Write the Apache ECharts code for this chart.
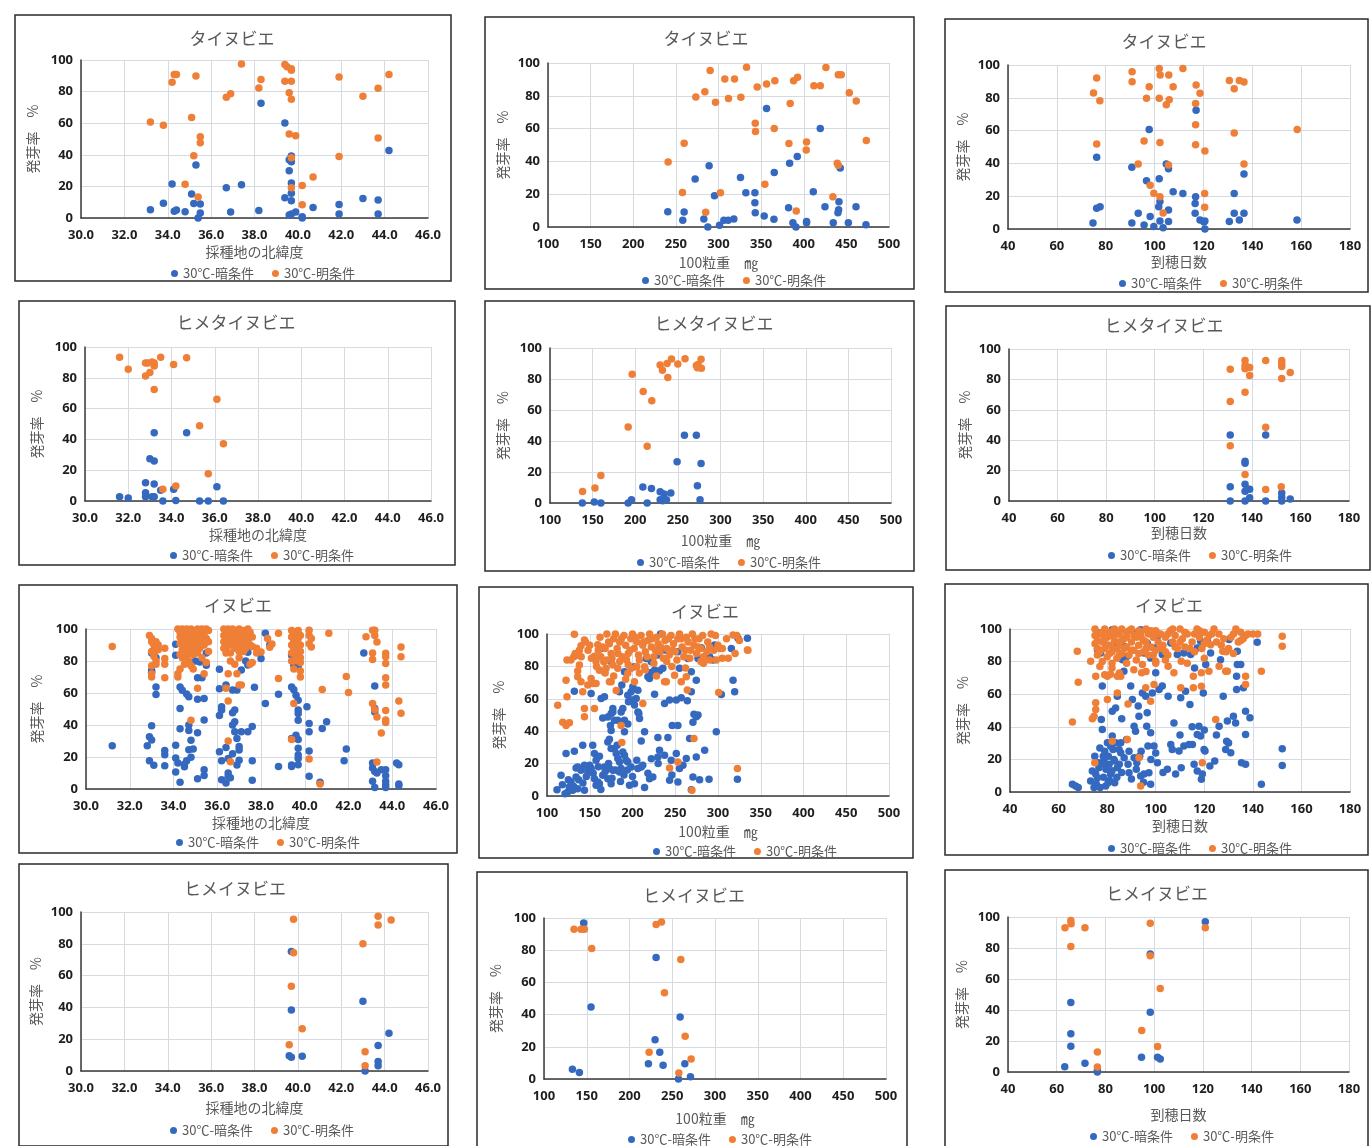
<!DOCTYPE html>
<html><head><meta charset="utf-8">
<script src="https://cdn.jsdelivr.net/npm/echarts/dist/echarts.min.js"></script>
<style>html,body{margin:0;padding:0;background:#fff}#c{width:1371px;height:1146px}</style>
</head><body><div id="c"></div><script>
const seriesNames = ['30℃-暗条件', '30℃-明条件'];
const panelTitles = ['タイヌビエ','タイヌビエ','タイヌビエ','ヒメタイヌビエ','ヒメタイヌビエ','ヒメタイヌビエ','イヌビエ','イヌビエ','イヌビエ','ヒメイヌビエ','ヒメイヌビエ','ヒメイヌビエ'];
const xNames = {lat: '採種地の北緯度', wt: '100粒重　㎎', day: '到穂日数'};
const yName = '発芽率　%';
const xScales = {lat: [30, 46, 2], wt: [100, 500, 50], day: [40, 180, 20]};
const yScale = [0, 100, 20];

// ---- タイヌビエ ----
const taiLatDark = [[33.2,5.3],[33.8,9.3],[34.2,21.5],[34.3,4.2],[34.4,5.1],[34.8,4.0],[35.1,15.2],[35.2,9.1],[35.3,33.5],[35.4,0],[35.5,3.2],[35.5,8.8],[36.7,19.2],[36.9,3.8],[37.4,21.1],[38.2,4.8],[38.3,72.6],[39.4,60.2],[39.4,12.8],[39.6,29.9],[39.6,36.8],[39.7,35.6],[39.7,39.2],[39.7,22.1],[39.7,15.6],[39.7,10.9],[39.6,1.9],[39.7,2.5],[39.9,3.8],[40.2,0.8],[40.2,0],[40.7,6.7],[41.9,8.6],[41.9,2.5],[43.0,12.4],[43.7,11.4],[43.7,2.5],[44.2,42.7]];
const taiLatLight = [[33.2,60.8],[33.8,58.7],[34.2,85.9],[34.3,90.9],[34.4,90.9],[34.8,21.3],[35.1,63.6],[35.2,39.4],[35.3,89.9],[35.4,13.3],[35.5,51.4],[35.5,47.6],[36.7,76.4],[36.9,78.7],[37.4,97.5],[38.2,82.3],[38.3,87.6],[39.4,97.1],[39.5,95.8],[39.7,94.5],[39.7,93.5],[39.4,86.5],[39.7,86.5],[39.6,79.2],[39.7,75.2],[39.6,53.1],[39.9,52.0],[39.7,38.1],[39.7,19.2],[40.2,20.6],[40.2,8.4],[40.7,25.9],[41.9,89.3],[41.9,38.9],[43.0,77.1],[43.7,82.1],[43.7,50.7],[44.2,90.9]];
const taiWtDark = [[240.5,9.3],[258.1,4.1],[259.7,9.1],[272.6,29.2],[282.8,4.9],[287.5,0],[289,37.3],[295.3,19.1],[301.2,1],[306.3,4.1],[311.4,4.1],[318,4.9],[325.8,30.2],[332.1,20.9],[342.7,20.9],[342.7,14.8],[343.1,8.7],[353.6,6.7],[356.4,72.2],[365,4.7],[365.4,33.3],[382.2,11.8],[383.4,38.9],[387.3,2.6],[390.8,0],[392.4,43],[403.3,3.4],[403.3,2.6],[411.2,21.5],[419.4,60],[424.9,12.4],[434.6,2.6],[441.3,15.4],[440.9,10.5],[440.1,8.7],[442.8,35.9],[452.3,2.6],[461.3,12.4],[473,1.4]];
const taiWtLight = [[240.9,39.6],[257.7,21.1],[259.7,51.1],[273.4,79.3],[284,82.4],[285,9],[290.2,95.5],[296.5,76.1],[302.3,20.9],[307.4,90.3],[311.7,78.3],[318.8,90.3],[326.2,79.1],[332.9,97.4],[343.1,63.3],[343.4,58.2],[345.4,85.4],[354.4,26],[356.4,87.2],[365.4,60],[366.1,89.2],[384.1,75.3],[382.6,50.9],[388.1,89.2],[391.2,9.7],[392.8,91.3],[403.3,51.9],[402.9,46.9],[411.9,86.2],[419.4,86.2],[426,97.2],[434.2,18.5],[440.5,92.9],[444,92.9],[439.3,38.9],[440.5,37.7],[453.4,81.9],[461.6,76.9],[473.4,52.7]];
const taiDayDark = [[74.8,3.7],[76.3,43.7],[76.3,12.7],[77.7,13.5],[90.7,37.6],[90.7,3.7],[93.3,9.6],[95.7,2.4],[96.7,29.4],[97.8,60.6],[98.2,7.6],[99.7,1.6],[101.7,13.5],[101.9,30.6],[102.2,16.7],[102.2,4.9],[103.5,0.8],[104.8,39.6],[105.7,36.7],[105.7,11.6],[105.7,4.5],[107.6,22.7],[111.6,21.6],[116.8,19.6],[116.6,15.5],[116.6,9.6],[117,72.4],[118.6,5.5],[120.2,4.3],[120.6,4.9],[120.6,0],[130.6,4.5],[132.6,21.6],[132.6,9.6],[134.7,5.5],[136.6,33.5],[136.6,9.6],[158.3,5.5]];
const taiDayLight = [[75,82.9],[76.3,92],[77.6,78.2],[76.3,51.8],[90.8,95.9],[90.8,89.8],[93.3,39.6],[95.7,53.7],[96.7,79.8],[97.8,86.7],[98.2,26.7],[99.7,21.8],[101.9,97.8],[101.9,79.8],[102.3,93.9],[102.2,52.7],[102.2,19.6],[103.5,9.8],[104.8,75.7],[105.8,93.9],[106,78.8],[105.7,39],[107.6,86.7],[111.6,97.8],[117,87.8],[116.8,76.5],[116.8,63.5],[116.8,51.4],[118.6,82.7],[120.6,47.6],[120.5,21.6],[120.5,13.3],[130.6,90.6],[132.6,85.5],[132.6,58.6],[134.7,90.6],[136.6,89.6],[136.6,39.6],[158.4,60.6]];

// ---- ヒメタイヌビエ ----
const himeTaiLatDark = [[31.6,2.8],[32.0,1.9],[32.8,11.9],[32.8,5.4],[32.8,2.8],[33.0,27.4],[33.2,25.9],[33.2,44.3],[33.2,11.0],[33.1,2.8],[33.2,2.8],[33.5,6.9],[33.6,0],[34.1,7.6],[34.2,0.4],[34.7,44.3],[35.3,0],[35.7,0],[36.1,9.3],[36.4,0]];
const himeTaiLatLight = [[31.6,93.3],[32.0,85.5],[32.8,89.6],[32.9,89.6],[32.8,81.2],[33.0,83.4],[33.1,90.3],[33.2,89.6],[33.2,87.7],[33.2,72.4],[33.5,93.3],[34.1,88.6],[34.7,93.1],[35.3,48.8],[36.1,66.1],[35.7,17.7],[36.4,37.1],[33.6,7.6],[34.2,9.7]];
const himeTaiWtDark = [[137.9,0],[151.9,0.6],[159.7,0],[191.7,0],[195.6,2.1],[208.9,10.3],[214,0],[219,9.4],[229.2,7.3],[229.2,2.1],[232.3,1.5],[233.8,5.8],[236.6,2.1],[241.7,6.4],[249.1,26.6],[257.7,43.7],[271.7,43.7],[272.9,11.1],[277.2,25.5],[276,2.1]];
const himeTaiWtLight = [[138.2,7.5],[152.7,9.6],[159.7,17.8],[191.7,49],[196.4,83.1],[209.3,71.9],[214,36.6],[219.4,66],[229.2,89.1],[231.9,85.7],[237.4,90],[238.2,80.9],[242.5,92.9],[249.9,89.7],[258.4,93.1],[272.9,87.2],[273.7,89.3],[277.2,92.7],[277.6,87],[271.7,88.7]];
const himeTaiDayDark = [[131.1,43.4],[131.1,9.3],[131.1,0],[137.2,26.2],[137.2,24.9],[137.2,11],[137.2,6.4],[138.2,7.7],[139.1,7.7],[139.1,2.2],[137.2,0],[145.7,43.4],[145.7,0],[152.3,5.3],[152.3,2.4],[152.3,0],[155.8,1.3]];
const himeTaiDayLight = [[131.1,86.6],[131.1,65.4],[131.1,36.3],[137.2,92.5],[137.2,89.2],[137.2,87],[137.2,71.6],[137.2,17.4],[138.2,88.1],[139.1,87.9],[139.1,82.6],[145.7,92.5],[145.7,48.5],[145.7,7.5],[152.3,92.5],[152.3,90.3],[152.3,88.5],[152.3,80.6],[155.8,84.6],[152.1,9.3]];

// ---- イヌビエ ----
const inuLatDark = [[31.2,27],[33.0,39.5],[32.9,32.7],[33.0,30.6],[32.8,27],[32.9,17.7],[33.1,14.8],[33.0,85],[33.1,84],[33.2,82],[33.0,74],[33.2,63.8],[33.2,59],[33.0,73],[33.6,24],[33.6,21.4],[33.6,14.6],
[34.1,90.4],[34.1,83.6],[34.3,50.3],[34.3,37.6],[34.1,27.4],[34.1,19.3],[34.2,16.2],[34.1,10.6],[34.3,4.2],[34.3,63.8],[34.4,61.7],[34.6,59.3],[34.7,57.7],[35.1,56.1],[35.4,56.5],[35.1,69.6],[35.3,69.6],[35.0,80],[34.7,36.6],[34.7,24.5],[34.8,19.8],[34.6,17.7],[34.5,13.9],[35.1,35.1],[35.1,6.4],[35.4,12],[35.4,8.5],[35.4,43.2],[34.7,40],[34.8,30.4],[35.5,77.3],[35.5,85],[35.5,99.4],[35.2,79.4],[34.5,15.5],[34.9,25],
[36.1,74.8],[36.1,62.6],[36.2,51.4],[36.2,49.3],[36.1,45.9],[36.1,23.3],[36.2,17.7],[36.2,5.8],[36.4,3.7],[36.5,10],[36.5,8],[36.4,65],[36.4,26],[36.5,19],[36.7,22],[36.7,47.6],[36.8,49.3],[36.7,40],[36.8,35.8],[36.9,31.6],[36.9,15],[37.0,18],[37.0,26.6],[37.0,24.3],[37.1,35.8],[36.7,61.8],[36.9,61.8],[36.9,89],[37.1,92],[37.4,94],[37.4,85.5],[37.3,80],[37.4,35.8],[37.6,39],[37.6,17.7],[37.6,5.4],[37.7,63.6],[37.1,74.4],[37.4,77.5],[36.6,7],[36.8,42],
[38.0,81.5],[38.2,53.4],[38.2,97.3],[38.4,90],[38.8,59.2],[38.8,14],
[39.4,83.6],[39.5,77.3],[39.4,63.8],[39.5,62],[39.6,58.6],[39.7,55.5],[39.7,49.3],[39.7,47.2],[39.7,43],[39.6,33.6],[39.7,31],[39.7,25.4],[39.7,21.2],[39.7,19.1],[39.7,15.2],[39.4,15],[39.4,14],[39.4,31.6],[39.7,75.9],[39.6,80],
[40.1,51.4],[40.2,41],[40.2,35.8],[40.2,23.7],[40.2,7.9],[40.7,4.2],[40.8,37.8],[41.0,42],[41.9,25],[41.8,17.7],[42.7,85],
[43.2,64.4],[43.2,50.3],[43.2,48.2],[43.1,16.2],[43.1,13.1],[43.2,11],[43.3,10],[43.5,12],[43.1,4.8],[43.2,1],[43.7,12],[43.7,8.3],[43.7,4.8],[43.7,2.7],[43.7,1],[44.2,16.2],[44.3,15.2],[44.3,3.1],[44.3,2.1]];
const inuLatLight = [[31.2,89],[32.9,96],[33.0,94],[33.0,92],[33.1,90],[33.2,88],[33.0,86],[33.1,83],[33.2,80],[33.0,77],[33.2,78],[33.0,72],[33.1,85],[33.2,92],[33.3,87],[33.3,90],[33.6,88],[33.6,81.5],[33.6,78],[33.6,69.6],[33.0,70],
[34.2,100],[34.3,98],[34.3,95],[34.4,100],[34.4,97],[34.4,93],[34.5,99],[34.5,96],[34.5,91],[34.5,88],[34.6,100],[34.6,95],[34.6,90],[34.7,98],[34.7,93],[34.7,86],[34.8,100],[34.8,96],[34.8,89],[34.9,99],[34.9,94],[35.0,97],[35.0,91],[35.1,100],[35.1,93],[35.2,98],[35.2,88],[35.3,100],[35.3,95],[35.4,97],[35.4,90],[35.5,100],[35.5,94],[35.6,99],[35.6,92],[34.3,84],[34.4,82],[34.6,83],[34.9,84],[35.1,85],[35.3,82],[34.2,72],[34.3,75],[34.5,78],[34.8,77],[34.9,75],[35.4,72],[35.5,79],[34.8,43],[35.1,63],[34.2,70],
[34.3,91],[34.4,87],[34.6,86],[34.7,80],[35.0,87],[35.2,93],[35.3,90],[35.6,86],
[36.3,100],[36.3,96],[36.3,92],[36.4,98],[36.4,88],[36.5,100],[36.5,94],[36.6,97],[36.6,90],[36.6,85],[36.7,100],[36.7,93],[36.8,96],[36.8,88],[36.9,99],[36.9,91],[37.0,100],[37.0,95],[37.0,86],[37.1,97],[37.1,90],[37.2,99],[37.2,93],[37.3,96],[37.3,88],[37.4,100],[37.4,92],[37.5,98],[37.6,95],[37.6,89],[36.4,85],[36.5,72],[36.4,63],[36.5,55],[36.5,30],[36.6,17],[36.8,78],[36.9,72],[37.0,65],[37.1,65],[37.0,82],[37.6,79],[37.5,78],[37.8,88],[37.8,85],
[36.3,88],[36.4,93],[36.5,90],[36.6,80],[36.8,92],[37.0,90],[37.2,86],[37.3,92],[37.5,90],
[38.0,85.7],[38.3,94],[38.4,88.6],[38.5,90.7],[38.8,97.3],[38.8,69],
[39.4,99],[39.4,95],[39.4,90],[39.4,85],[39.5,98],[39.5,92],[39.5,80],[39.6,97],[39.6,88],[39.6,83],[39.7,99],[39.7,94],[39.7,86],[39.7,80],[39.8,96],[39.8,90],[39.8,82],[39.8,79],[39.5,75],[39.5,53.4],[39.4,31],[39.8,70],[39.8,73.8],
[39.5,88],[39.6,93],[39.7,90],[39.4,80],[39.8,86],
[40.2,99.2],[40.2,96],[40.3,94],[40.2,90.8],[40.3,88.8],[40.2,18.7],[40.7,3.1],[40.8,62.2],[41.1,97.3],[41.9,70.3],[42.0,60.3],[42.8,95.1],
[43.1,99.2],[43.2,99.2],[43.2,96],[43.3,91.9],[43.1,85],[43.1,81],[43.1,53.4],[43.2,49.5],[43.3,45],[43.5,35],[43.3,16.8],
[43.7,84.8],[43.7,82.7],[43.7,78.5],[43.7,69.6],[43.7,65],[43.7,49],[43.7,43.2],[43.7,41.6],[44.4,88.8],[44.4,82.7],[44.3,55],[44.4,47.4]];
const inuWtDark = [[111.7,3.9],[116.4,12.8],[121.1,1.4],[122.3,26.2],[124.2,2.5],[126.2,5.6],[128.1,8.7],[130.1,3.5],[132,27.6],[134,11.8],[134,17.3],[135.9,17.9],[135.9,4.5],[139.8,15.9],[141.8,31.3],[143.8,19],[143.8,3.5],[147.7,15.3],[151.6,16.9],[153.5,31.3],[155.5,26.2],[157.4,22.1],[155.5,10.7],[157.4,6.6],[159.4,8.7],[161.3,24.5],[161.3,7.6],[165.2,12.8],[167.2,17.9],[171.1,10.7],[173,16.9],[175,7.6],[177,15.9],[178.9,29.3],[180.9,26.2],[182.8,23.1],[184.8,21],[184.8,14.8],[186.7,16.9],[188.7,27.2],[190.6,25.2],[192.6,22.1],[194.5,21],[196.5,6.6],[198.4,17.9],[202.3,7.6],[206.3,16.9],[210.2,17.9],[214.1,5.2],[219.9,10.7],[223.8,11.8],[229.7,24.1],[231.6,28.2],[237.5,25.2],[243.4,9.7],[245.3,22.1],[251.2,26.2],[253.1,8.7],[259,19],[262.9,23.1],[270.7,11.8],[274.6,24.1],[278.5,10.1],[284.4,28.2],[289.5,10.3],[322.7,10.3],[268.8,3.9],
[118,7],[125,10],[131,6],[137,10],[142,8],[146,12],[150,19],[154,14],[160,18],[163,4],[168,15],[172,20],[176,11],[180,16],[186,9],[190,13],[194,16],[200,12],[205,22],[212,19],[218,14],[222,23],[230,20],[246,13],[255,17],
[151.6,63.3],[163.3,60.2],[167.2,61.2],[165.2,48.2],[171.1,48.7],[175,50.9],[174.2,43.5],[175,40.4],[177,54],[177,51.9],[178.9,46.8],[171.1,33.4],[173,35],[175,29.3],[182,31.3],[182.8,46.8],[184.8,64.3],[186.7,51.9],[187.5,68.5],[188.7,54],[190.6,46.8],[190.6,39.6],[194.5,44.5],[194.5,62.2],[195.3,58.2],[198.4,64.3],[199.2,59.2],[200.4,67.4],[202.3,56.1],[204.3,60.2],[206.3,65.3],[206.3,51.9],[207.4,50.9],[208.2,47.8],[210.2,34],[214.1,39.6],[218,73.6],[219.9,72.6],[221.9,76.3],[225.8,77.7],[225.8,62.8],[229.7,36.1],[231.6,77.3],[235.5,78.8],[237.5,57.1],[241.4,36.1],[243.4,59.2],[246.5,43.5],[251.2,59.2],[253.1,43.5],[255.1,78.8],[257,60.6],[264.1,58.8],[266.8,35.5],[270.7,45.6],[271.9,50.5],[274.6,48.9],[276.6,50],[274.6,71.5],[268.8,76.7],[268.8,64.3],[298,39.6],[303.9,62.7],[317.6,71.5],[319.5,64.3],
[134,87],[132,64.7],[163.3,91],[167.2,76.7],[175,82.9],[190.6,76.7],[202.3,79.8],[216,84.9],[221.9,82.9],[232.8,100],[229.7,87],[237.5,90.1],[253.1,89.1],[264.8,84.9],[276.6,84.9],[290.2,86],[294.1,83.9],[323.4,97.3],[315.6,91.1],[334.4,97.3],[296.1,93.2],[280.5,91.5]];
const inuWtLight = [[112.5,56],[118.4,45.6],[122.3,43.5],[126.2,45.2],[123.4,61.2],[122.3,71.5],[123.4,83.9],[132,99.8],[131.3,85.9],[135.9,87],[137.9,90],[139.8,92.8],[143.8,96.3],[137.9,80.8],[135.9,77.1],[135.9,73.6],[139.8,70.5],[141.8,64.3],[143.8,54],[143.8,48.9],[147.7,68.5],[151.6,72.6],[153.5,69.5],[157.4,69.5],[155.5,54],[157.4,83],[155.5,86.2],[159.4,93.4],[161.3,77.7],[166.4,82.9],[169.1,78.8],[173,70.5],[175,70.5],[177,80.8],[180.9,65.1],[182.8,78.8],[186.7,43.5],[187.5,33],[194.5,75.7],[198.4,78.8],[202.3,70.5],[212.1,57.1],[214.1,79.8],[237.5,70.5],[239.5,70.5],[243.4,17.3],[249.2,74.6],[253.1,21],[257,70.5],[262.9,73.6],[264.1,65.4],[271.9,35.5],[269.5,3.5],[300.8,63.9],[305.1,91.1],[317.6,99.4],[322.7,17],[334.4,90.1],
[162,98],[165,92],[170,100],[172,95],[175,88],[178,97],[180,100],[182,91],[185,95],[188,86],[190,99],[192,93],[195,88],[198,97],[200,100],[202,91],[205,95],[207,87],[210,99],[212,93],[215,89],[218,96],[220,100],[222,92],[225,86],[228,98],[230,94],[232,89],[235,100],[238,96],[240,91],[243,87],[245,99],[248,94],[250,89],[253,97],[255,100],[258,92],[260,86],[263,98],[265,95],[268,90],[270,100],[272,93],[275,88],[278,97],[280,91],[283,86],[288,95],[292,100],[295,90],[300,93],[305,85],[310,97],[322,99],[325,96],[335,90],[320,88],[298,84],[283,82],[185,83],[195,81],[205,80],[215,78],[225,82],[240,83],[170,84],[160,90],[150,93],[140,86],
[128,84],[133,88],[145,95],[148,90],[152,85],[158,80],[163,86],[168,91],[173,94],[176,85],[183,88],[187,97],[193,84],[197,90],[203,98],[208,84],[213,95],[217,86],[223,97],[227,90],[233,92],[236,85],[242,97],[247,90],[252,84],[257,97],[262,90],[267,85],[273,97],[277,92],[282,99],[287,89],[290,92],[297,99],[302,91],[312,85],[168,76],[178,74],[192,72],[208,76],[228,74],[246,80],[262,79],[280,83],[290,84]];
const inuDayDark = [[65.7,4.7],[67,3.7],[68.1,2.7],[73.2,6.7],[73.9,12.9],[74.6,2.7],[74.9,22],[75.3,11],[76,8.8],[76.6,14.9],[77.1,2.7],[77.6,44.5],[78,38.4],[78,65],[78.4,22],[78.7,19],[79.1,17],[79.4,3.7],[80.1,30.2],[80.4,5.7],[80.8,17],[81.4,11],[82.1,49.6],[82.1,34.3],[82.4,26.1],[82.8,20],[83.1,5.7],[83.5,30.2],[83.5,51.6],[84.2,14.9],[84.2,58.8],[84.9,26.1],[85.6,30.2],[85.6,24.1],[86,44.9],[86.3,81.2],[86.9,74.1],[88,32.2],[88.6,17],[89,11.8],[89.7,65],[90.4,56.7],[91.1,40.4],[91.1,21],[91.7,37.3],[92.2,18],[92.8,52.7],[93.1,46.5],[93.4,22],[93.8,9.8],[94.5,60.8],[95.2,11],[95.9,58.8],[96.3,40.4],[96.5,48.6],[96.8,28.2],[97.2,11.8],[97.9,36.3],[97.9,4.7],[98.6,60.8],[99.3,28.2],[100,73.1],[100.7,18],[101.4,62.9],[102.7,65],[104.8,13.9],[105.1,58.8],[106.2,29.2],[106.8,26.1],[107.5,42.4],[108.2,11],[109.6,25.1],[110.3,57.8],[110.5,14.9],[111.6,28.2],[112.3,61.8],[113.7,29.2],[114.1,53.7],[115.1,29.2],[115.8,17],[116,76.1],[117.1,35.3],[117.1,12.9],[117.8,40.4],[118.5,34.3],[118.8,7.8],[119.2,11],[119.6,60.8],[119.9,26.1],[120.3,25.1],[120.6,78.2],[122.3,15.9],[124.3,19],[126.1,40.4],[127.8,58.8],[128.8,26.1],[129.2,31.2],[129.5,43.5],[130.9,24.1],[132,46.5],[132.9,42.4],[133.3,71],[133.3,62.9],[133.6,78.2],[135,78.2],[135.3,18],[136.1,63.9],[137,49.6],[137,35.3],[137,17],[138.8,45.5],[143.5,4.7],[152.1,26.5],[152.1,16.3],[141.8,91.8],
[75.5,5],[76.5,18],[77,27],[78.5,9],[79,25],[79.5,14],[80.5,22],[81,7],[81.5,28],[82,13],[83,19],[84,9],[85,17],[86,12],[87,21],[89,25],[90,8],[92,14],[94,25],[95,6],[98,20],[100,24],[103,12],[110,35],[115,40],[120,38],[125,35],[130,30],
[76,87.3],[76.6,97.6],[77.3,85.3],[82.1,99.6],[84.2,90.4],[86.9,89.4],[88.3,83.3],[91.7,97.6],[93.8,99.6],[95.2,85.3],[96.5,91.4],[97.9,82.2],[99.3,88.4],[100.7,95.5],[102.7,84.3],[106.2,91.4],[108.9,84.3],[111.6,85.3],[114.4,84.3],[117.1,88.4],[118.5,92.5],[121.3,92.5],[122.6,85.3],[126.7,81.2],[130.2,93.5],[133.6,86.3]];
const inuDayLight = [[65.7,42.9],[67.7,86.3],[68.1,67.3],[73.2,80.2],[73.9,44.9],[74.6,46.5],[74.9,18],[75.3,54.7],[75.3,50.6],[75.3,71],[80.1,56.7],[82.1,31.2],[80.1,71],[81.4,72.2],[84.2,60.8],[84.2,71],[85.6,71],[88.3,32.2],[88.6,54],[93.1,21],[93.8,3.7],[94.2,73.1],[94.5,78.2],[95.9,63.9],[97.9,55.7],[99.3,65.9],[100,80.2],[105.1,77.1],[107.5,73.1],[110.3,63.9],[110.5,80.2],[115.5,71],[115.5,63.9],[118.8,73.1],[118.8,64.9],[119.2,18],[121.9,74.1],[122.6,90.4],[124.7,44.5],[126.1,77.1],[127.6,86.3],[128.8,74.1],[129.5,74.1],[137,71],[137,65.9],[143.5,74.1],[152.1,95.5],[152.1,89.4],
[75,100],[75,96],[75,91],[76,88],[76,84],[77,97],[78,92],[78,80],[79,100],[79,88],[80,95],[80,83],[81,98],[81,90],[82,86],[82,79],[83,100],[83,93],[84,88],[84,82],[85,97],[85,91],[86,85],[86,100],[87,94],[88,89],[88,98],[89,84],[90,100],[90,92],[91,96],[91,87],[92,81],[93,99],[93,90],[94,95],[95,86],[96,100],[96,92],[97,97],[97,84],[98,89],[99,95],[100,99],[100,87],[101,92],[102,97],[103,90],[104,95],[105,84],[106,99],[107,92],[108,96],[109,88],[110,100],[111,94],[112,89],[113,97],[115,92],[116,86],[117,100],[118,95],[119,88],[120,98],[121,93],[122,96],[124,100],[126,97],[127,90],[129,86],[130,88],[131,95],[132,85],[133,100],[134,92],[135,98],[136,94],[137,96],[138,97],[140,97],[142,97],
[76,93],[77,86],[78,98],[79,94],[80,90],[81,85],[82,96],[83,88],[84,97],[85,84],[86,93],[87,88],[88,95],[89,99],[90,87],[92,95],[93,85],[94,98],[95,93],[96,88],[98,99],[99,84],[101,97],[102,88],[104,86],[105,97],[107,100],[108,89],[110,92],[112,98],[114,88],[116,97],[118,99],[120,91],[123,97],[125,92],[128,94],[132,97],[135,93],[77,77],[79,72],[82,76],[85,73],[88,79],[91,75],[96,74],[100,79],[104,81],[113,79],[120,82]];

// ---- ヒメイヌビエ ----
const himeInuLatDark = [[39.7,75.1],[39.7,38.3],[39.6,9.6],[39.7,8.6],[40.2,9.2],[43.0,43.9],[43.1,0],[43.7,16.1],[43.7,5.9],[43.7,3.3],[44.2,23.8]];
const himeInuLatLight = [[39.8,95.4],[39.8,74.3],[39.7,53.3],[39.6,16.5],[40.2,26.6],[43.0,80.1],[43.1,12.1],[43.1,3.3],[43.7,97.3],[43.7,91.8],[44.3,95.0]];
const himeInuWtDark = [[146.4,96.9],[133.2,6],[141.4,4.1],[155,44.7],[231.1,75.4],[229.9,24.4],[235.4,16.6],[222.1,9.5],[239.3,8.5],[259.2,38.5],[264.7,9.5],[257.3,0],[271.3,1.4]];
const himeInuWtLight = [[135.1,93],[143.3,93],[147.2,93],[155.8,81],[231.1,95.9],[237.4,97.5],[222.9,16.6],[240.9,53.6],[260,74.3],[265.1,26.5],[272.1,12.4],[257.7,3.7]];
const himeInuDayDark = [[63.3,3.4],[65.8,44.8],[65.8,24.6],[65.8,16.6],[71.6,5.6],[76.7,0.9],[76.7,0],[94.8,9.5],[98.4,76.1],[98.4,38.6],[101.4,9.5],[102.5,8.4],[121,97]];
const himeInuDayLight = [[63.4,93.1],[65.8,97.8],[65.9,95.7],[65.8,81],[71.6,93.1],[76.7,12.9],[76.7,3.2],[98.4,96],[98.4,75],[102.5,53.9],[94.9,26.7],[101.4,16.4],[121,93.1]];

const panelData = [
  ['lat', taiLatDark, taiLatLight], ['wt', taiWtDark, taiWtLight], ['day', taiDayDark, taiDayLight],
  ['lat', himeTaiLatDark, himeTaiLatLight], ['wt', himeTaiWtDark, himeTaiWtLight], ['day', himeTaiDayDark, himeTaiDayLight],
  ['lat', inuLatDark, inuLatLight], ['wt', inuWtDark, inuWtLight], ['day', inuDayDark, inuDayLight],
  ['lat', himeInuLatDark, himeInuLatLight], ['wt', himeInuWtDark, himeInuWtLight], ['day', himeInuDayDark, himeInuDayLight]
];

// layout (pixels): box, plot grid, title centre, legend left/centre-y, name gaps
const layout = [
 {box:[15,15,436,266], grid:[81,60,347,158], tx:232, ty:39, lx:166, ly:271, xg:27, yg:41},
 {box:[485,17,429,272], grid:[548,63,341,164], tx:706, ty:39, lx:637, ly:278, xg:29, yg:38},
 {box:[945,19,423,273], grid:[1008,65,342,164], tx:1164, ty:42, lx:1114, ly:281, xg:26, yg:38},
 {box:[19,301,436,264], grid:[85,347,346,154], tx:236, ty:323, lx:165, ly:553, xg:27, yg:41},
 {box:[485,301,429,270], grid:[550,348,341,155], tx:714, ty:324, lx:632, ly:560, xg:31, yg:40},
 {box:[946,306,424,264], grid:[1009,349,340,152], tx:1164, ty:326, lx:1103, ly:553, xg:25, yg:37},
 {box:[19,585,438,268], grid:[86,629,350,160], tx:238, ty:606, lx:171, ly:840, xg:27, yg:42},
 {box:[479,587,434,271], grid:[547,634,342,162], tx:705, ty:612, lx:648, ly:849, xg:29, yg:41},
 {box:[945,584,423,271], grid:[1010,629,340,163], tx:1169, ty:606, lx:1103, ly:846, xg:27, yg:40},
 {box:[19,864,429,282], grid:[81,912,347,159], tx:235, ty:889, lx:165, ly:1128, xg:30, yg:38},
 {box:[477,872,430,276], grid:[544,918,342,161], tx:694, ty:896, lx:623, ly:1137, xg:33, yg:41},
 {box:[945,870,423,278], grid:[1008,917,341,155], tx:1157, ty:894, lx:1085, ly:1134, xg:36, yg:39}
];

const FONT = '"Noto Sans CJK JP", "Noto Sans", sans-serif';
const BLUE = '#3569bf', ORANGE = '#ef7f37';
const grids = [], xAxes = [], yAxes = [], series = [], legends = [], graphics = [];
layout.forEach((L, i) => {
  const [kind, dark, light] = panelData[i];
  const [xmin, xmax, xint] = xScales[kind];
  grids.push({left: L.grid[0], top: L.grid[1], width: L.grid[2], height: L.grid[3], containLabel: false});
  xAxes.push({
    type: 'value', gridIndex: i, min: xmin, max: xmax, interval: xint,
    name: xNames[kind], nameLocation: 'middle', nameGap: L.xg,
    nameTextStyle: {fontFamily: FONT, fontSize: 14, color: '#595959'},
    axisLine: {show: true, onZero: false, lineStyle: {color: '#3a3a3a', width: 1.5}},
    axisTick: {show: false},
    axisLabel: {fontFamily: '"Noto Sans", sans-serif', fontSize: 13, fontWeight: 'bold', color: '#1e1e1e', margin: 11,
      formatter: v => kind === 'lat' ? v.toFixed(1) : String(v)},
    splitLine: {show: true, lineStyle: {color: '#d6dbe1', width: 1}}
  });
  yAxes.push({
    type: 'value', gridIndex: i, min: yScale[0], max: yScale[1], interval: yScale[2],
    name: yName, nameLocation: 'middle', nameGap: L.yg,
    nameTextStyle: {fontFamily: FONT, fontSize: 14, color: '#595959'},
    axisLine: {show: true, lineStyle: {color: '#3a3a3a', width: 1.5}},
    axisTick: {show: false},
    axisLabel: {fontFamily: '"Noto Sans", sans-serif', fontSize: 13, fontWeight: 'bold', color: '#1e1e1e', margin: 8},
    splitLine: {show: true, lineStyle: {color: '#d6dbe1', width: 1}}
  });
  series.push({type: 'scatter', name: seriesNames[0], xAxisIndex: i, yAxisIndex: i, data: dark,
    symbolSize: 7.5, itemStyle: {color: BLUE, opacity: 1}, clip: false});
  series.push({type: 'scatter', name: seriesNames[1], xAxisIndex: i, yAxisIndex: i, data: light,
    symbolSize: 7.5, itemStyle: {color: ORANGE, opacity: 1}, clip: false});
  legends.push({data: seriesNames, left: L.lx, top: L.ly - 9, icon: 'circle', itemWidth: 7, itemHeight: 7,
    itemGap: 18, textStyle: {fontFamily: FONT, fontSize: 13, color: '#595959'}, selectedMode: false});
  graphics.push({type: 'rect', shape: {x: L.box[0], y: L.box[1], width: L.box[2], height: L.box[3]},
    style: {fill: 'none', stroke: '#2a2a2a', lineWidth: 1.5}, z: -1, silent: true});
  graphics.push({type: 'text', x: L.tx, y: L.ty, silent: true,
    style: {text: panelTitles[i], font: '17px ' + FONT, fill: '#595959', align: 'center', verticalAlign: 'middle',
      textAlign: 'center', textVerticalAlign: 'middle'}});
});

const chart = echarts.init(document.getElementById('c'), null, {renderer: 'canvas'});
chart.setOption({
  animation: false,
  backgroundColor: '#ffffff',
  grid: grids, xAxis: xAxes, yAxis: yAxes, series: series, legend: legends,
  graphic: {elements: graphics}
});
</script></body></html>
